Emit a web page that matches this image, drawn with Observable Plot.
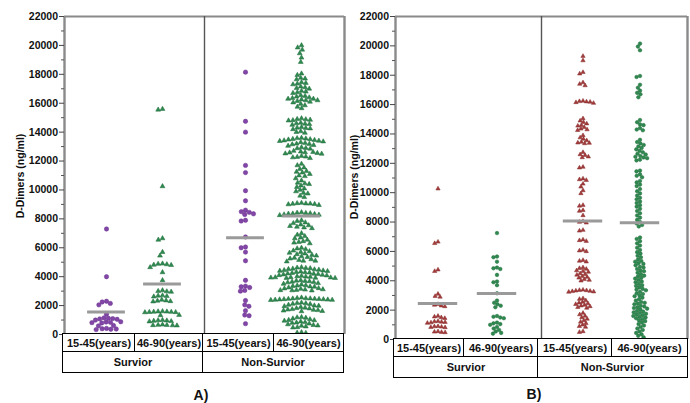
<!DOCTYPE html>
<html><head><meta charset="utf-8">
<script src="https://cdn.jsdelivr.net/npm/d3@7"></script>
<script src="https://cdn.jsdelivr.net/npm/@observablehq/plot@0.6"></script>
<style>
body{margin:0;background:#fff;font-family:Arial,"Liberation Sans",sans-serif;}
#wrap{position:relative;width:690px;height:403px;overflow:hidden;background:#fff;}
.chart{position:absolute;top:0;}
.ylab{position:absolute;font-weight:bold;font-size:10.5px;white-space:nowrap;transform:translate(-50%,-50%) rotate(-90deg);color:#111;}
.cell{position:absolute;box-sizing:border-box;border:1.5px solid #000;font-weight:bold;font-size:11px;display:flex;align-items:center;justify-content:center;background:#fff;color:#111;}
.plab{position:absolute;font-weight:bold;font-size:14px;transform:translate(-50%,-50%);color:#111;}
</style></head>
<body><div id="wrap"></div>
<script>
// ---------- data ----------
const yTicks = [0,2000,4000,6000,8000,10000,12000,14000,16000,18000,20000,22000];
const ageLabels = ["15-45(years)","46-90(years)","15-45(years)","46-90(years)"];
const statusLabels = ["Survior","Non-Survior"];
const yLabel = "D-Dimers (ng/ml)";
const groupKeys = ["S15","S46","N15","N46"];

// Panel A
const aSurv1545 = [7300,4000,2300,2250,2150,2050,1400,1150,1120,1100,1080,1050,1000,880,860,840,820,800,620,600,420,400,380,360,340];
const aSurv4690 = [15600,15550,10250,6650,6550,5700,5450,4900,4880,4850,4820,4800,4650,4300,3750,3050,3000,2980,2950,2700,2680,2650,2620,2400,2350,2330,2300,2280,1600,1590,1580,1570,1560,1550,1540,1530,1350,1330,1000,980,960,940,920,900,680,660,650,640,630,620];
const aNon1545 = [18150,14750,14000,11700,11200,9950,9250,8600,8500,8450,8350,8300,7900,7850,6750,6050,6000,5700,5100,3750,3350,3300,3250,3050,3000,2350,2050,1950,1650,1350,1300,750];
const aNon4690 = [20000,19850,19700,19450,19150,18850,
 18050,17950,17750,17700,17650,17450,17400,17350,17300,17150,17100,17050,17000,16850,16800,16750,16700,16550,16500,16450,16400,16350,16300,16300,16250,16200,16200,16150,16100,16050,15950,15850,15750,15650,
 14950,14900,14880,14850,14820,14800,14650,14600,14580,14550,14500,14350,14300,14280,14250,14200,14050,14000,13950,
 13600,13580,13550,13520,13500,13480,13450,13420,13400,13380,13350,13300,13250,13200,13180,13150,13100,13050,12950,12900,12880,12850,12700,12650,12620,12600,12580,12550,12520,12500,12350,12300,12280,12250,12200,
 11800,11700,11550,11450,11300,11250,11200,11100,11000,10950,10800,10650,10500,10450,
 10400,10300,10200,10100,10000,9900,9800,9750,9600,9500,
 9100,9080,9060,9050,9040,9020,9000,8950,
 8450,8420,8400,8380,8360,8350,8330,8300,8280,8250,
 7900,7850,7750,7700,7600,7550,7500,7450,7400,7350,
 7000,6900,6800,6700,6650,6550,6450,6400,6350,6300,
 6000,5950,5900,5800,5750,5700,5650,5600,5550,5500,5450,5400,5350,5300,5250,5200,5150,5100,5100,5050,
 4650,4620,4600,4580,4550,4520,4500,4480,4450,4420,4400,4380,4350,4320,4300,4280,4250,4220,4200,4180,4150,4120,4100,4080,4050,4020,4000,3980,3960,3950,3940,3930,3920,3910,3900,
 3750,3720,3700,3680,3650,3620,3600,3550,3500,3450,3400,3380,3350,3320,3300,3250,3200,3180,3150,3120,3100,3080,3060,3050,3040,
 2550,2520,2500,2490,2480,2470,2460,2450,2440,2430,2420,2410,2400,2390,2380,
 2200,2180,2150,2120,2100,2050,2000,1980,1950,1900,1850,1820,1800,1750,1720,1700,1680,1650,1620,1600,
 1200,1180,1150,1100,1050,1000,980,950,900,850,820,800,750,700,650,620,600,550,500,480,
 150,120,100];
const aMedians = [1550,3500,6700,8200];

// Panel B
const bSurv1545 = [10270,6650,6550,4750,4650,3100,2950,2900,2400,2350,2300,2250,1600,1550,1500,1450,1250,1220,1200,1180,1150,1120,900,880,860,840,820,550,520,500,480];
const bSurv4690 = [7250,5650,5600,5300,4900,4850,4800,4400,3950,3900,3700,3150,2650,2500,2400,2300,2200,1600,1550,1500,1450,1150,1100,1050,1000,850,750,650,550,450,400];
const bNon1545 = [19300,19000,18200,18100,17500,17400,17300,16250,16220,16200,16180,16150,16100,15050,14900,14800,14700,14600,14550,14450,14350,14300,14250,13900,13750,13650,13550,13450,13400,13380,13350,12750,12600,12550,12450,12400,11750,11700,10950,10900,10850,10600,10400,10150,9950,9150,9100,8800,8750,8450,8050,8000,7950,7450,7400,6800,6750,6700,6100,6050,6000,5400,5350,5300,4900,4850,4800,4700,4650,4600,4500,4450,4400,4300,4250,4200,4100,4050,4000,3380,3360,3340,3320,3300,3280,3260,3240,2800,2750,2650,2550,2500,2450,2400,2350,2300,2250,2200,2150,1800,1700,1600,1500,1400,1300,1200,1100,1000,900,850,550,500];
const bNon4690 = [20150,19950,19700,17950,17880,17350,17150,16950,16800,16700,16500,14950,14800,14650,14600,14400,14300,14250,13600,13450,13350,13250,13150,13050,12950,12850,12750,12650,12600,12500,12450,12400,12350,12250,12200,11500,11450,11250,11150,11050,10800,10700,10550,10450,10250,10100,9950,9800,9650,9550,9400,9300,9150,9050,8900,8750,8600,8450,8300,8150,8000,7900,7800,7700,6950,6850,6700,6550,6400,6250,6100,5950,5850,5700,5600,5450,5350,5300,5200,5150,5050,4950,4900,4800,4700,4650,4550,4450,4350,4300,4200,4150,4050,3950,3900,3800,3700,3650,3550,3450,3400,3350,3250,3150,3100,3000,2950,2850,2750,2650,2550,2500,2450,2400,2300,2250,2200,2150,2100,2050,1950,1900,1850,1800,1750,1700,1650,1600,1550,1500,1450,1400,1300,1250,1150,1050,950,850,750,650,550,450,350,250,150];
const bMedians = [2450,3130,8070,7960];

// ---------- drawing ----------
const wrap = document.getElementById("wrap");
const FONT = "Arial, 'Liberation Sans', sans-serif";

function makePanel(cfg) {
  const marks = [];
  marks.push(Plot.ruleY([0, 22000], {stroke: "#8a8a8a", strokeWidth: 2.2}));
  marks.push(Plot.ruleX([{g: "S15", x: 0}, {g: "N46", x: 1}], {fx: "g", x: "x", stroke: "#8a8a8a", strokeWidth: 2.4}));
  marks.push(Plot.ruleX([{g: "N15", x: 0}], {fx: "g", x: "x", stroke: "#555", strokeWidth: 1.4}));
  cfg.series.forEach((vals, i) => {
    const tri = cfg.symbols[i] === "triangle";
    marks.push(Plot.dot(vals.map(v => ({g: groupKeys[i], v})), Plot.dodgeX({anchor: "middle", padding: cfg.pad, r: cfg.r},
      {fx: "g", y: "v", r: tri ? cfg.rTri : cfg.rDot, fill: cfg.colors[i], stroke: cfg.strokes[i], strokeWidth: 0.5,
       symbol: cfg.symbols[i], dx: cfg.dxs[i]})));
  });
  cfg.medians.forEach((m, i) => {
    marks.push(Plot.ruleY([{g: groupKeys[i], v: m}], {fx: "g", y: "v", x1: 0.5 - cfg.mw, x2: 0.5 + cfg.mw,
      stroke: "#9a9a9a", strokeWidth: 3, dx: cfg.dxs[i]}));
  });
  marks.push(Plot.axisY({ticks: d3.range(1000, 22000, 2000), tickSize: 3, tickFormat: () => "", stroke: "#555", label: null}));
  marks.push(Plot.axisY({ticks: yTicks, tickSize: 5, tickPadding: 1.5, tickFormat: d => String(d),
    stroke: "#444", fill: "#111", fontWeight: "bold", fontSize: 10.5, label: null}));

  const svg = Plot.plot({
    width: cfg.width, height: cfg.height,
    marginLeft: cfg.ml, marginRight: cfg.mr, marginTop: cfg.mt, marginBottom: cfg.mb,
    style: {fontFamily: FONT, fontSize: "10.5px", fontWeight: "bold", background: "transparent", overflow: "visible"},
    fx: {domain: groupKeys, paddingInner: 0, paddingOuter: 0, axis: null},
    x: {domain: [0, 1], axis: null},
    y: {domain: [0, 22000], axis: null},
    marks
  });
  svg.classList.add("chart");
  svg.style.left = cfg.left + "px";
  wrap.appendChild(svg);

  const yl = document.createElement("div");
  yl.className = "ylab"; yl.textContent = yLabel;
  yl.style.left = cfg.ylx + "px"; yl.style.top = cfg.yly + "px";
  wrap.appendChild(yl);

  const xs = cfg.cellX;
  ageLabels.forEach((t, i) => {
    const c = document.createElement("div");
    c.className = "cell"; c.textContent = t;
    c.style.left = (xs[i] - 0.75) + "px"; c.style.width = (xs[i + 1] - xs[i] + 1.5) + "px";
    c.style.top = (cfg.row1 - 0.75) + "px"; c.style.height = (cfg.row2 - cfg.row1 + 1.5) + "px";
    wrap.appendChild(c);
  });
  statusLabels.forEach((t, i) => {
    const c = document.createElement("div");
    c.className = "cell"; c.textContent = t;
    const a = xs[i * 2], b = xs[i * 2 + 2];
    c.style.left = (a - 0.75) + "px"; c.style.width = (b - a + 1.5) + "px";
    c.style.top = (cfg.row2 - 0.75) + "px"; c.style.height = (cfg.row3 - cfg.row2 + 1.5) + "px";
    wrap.appendChild(c);
  });
  const pl = document.createElement("div");
  pl.className = "plab"; pl.textContent = cfg.label;
  pl.style.left = cfg.plx + "px"; pl.style.top = cfg.ply + "px";
  wrap.appendChild(pl);
}

makePanel({
  series: [aSurv1545, aSurv4690, aNon1545, aNon4690],
  medians: aMedians,
  colors: ["#8246a6", "#2f8a50", "#8246a6", "#2f8a50"],
  strokes: ["#6a3290", "#1f6a3a", "#6a3290", "#1f6a3a"],
  symbols: ["circle", "triangle", "circle", "triangle"],
  dxs: [7, -7, 6, -8], r: 2.2, rDot: 2.2, rTri: 1.8, pad: 0, mw: 0.27,
  left: 0, width: 345, height: 336, ml: 63, mr: 1, mt: 16, mb: 2,
  ylx: 20, yly: 176,
  cellX: [63, 135, 203, 274, 343], row1: 334, row2: 352, row3: 372,
  label: "A)", plx: 201, ply: 395
});

makePanel({
  series: [bSurv1545, bSurv4690, bNon1545, bNon4690],
  medians: bMedians,
  colors: ["#a33b3b", "#2f8a50", "#a33b3b", "#2f8a50"],
  strokes: ["#862a2a", "#1f6a3a", "#862a2a", "#1f6a3a"],
  symbols: ["triangle", "circle", "triangle", "circle"],
  dxs: [6, -8, 5, -11], r: 1.8, rDot: 1.8, rTri: 1.6, pad: 0, mw: 0.27,
  left: 345, width: 345, height: 341, ml: 49, mr: 3, mt: 16, mb: 2,
  ylx: 354, yly: 177,
  cellX: [394, 464, 538, 612, 687], row1: 339, row2: 357, row3: 377.5,
  label: "B)", plx: 534, ply: 394
});
</script>
</body></html>
